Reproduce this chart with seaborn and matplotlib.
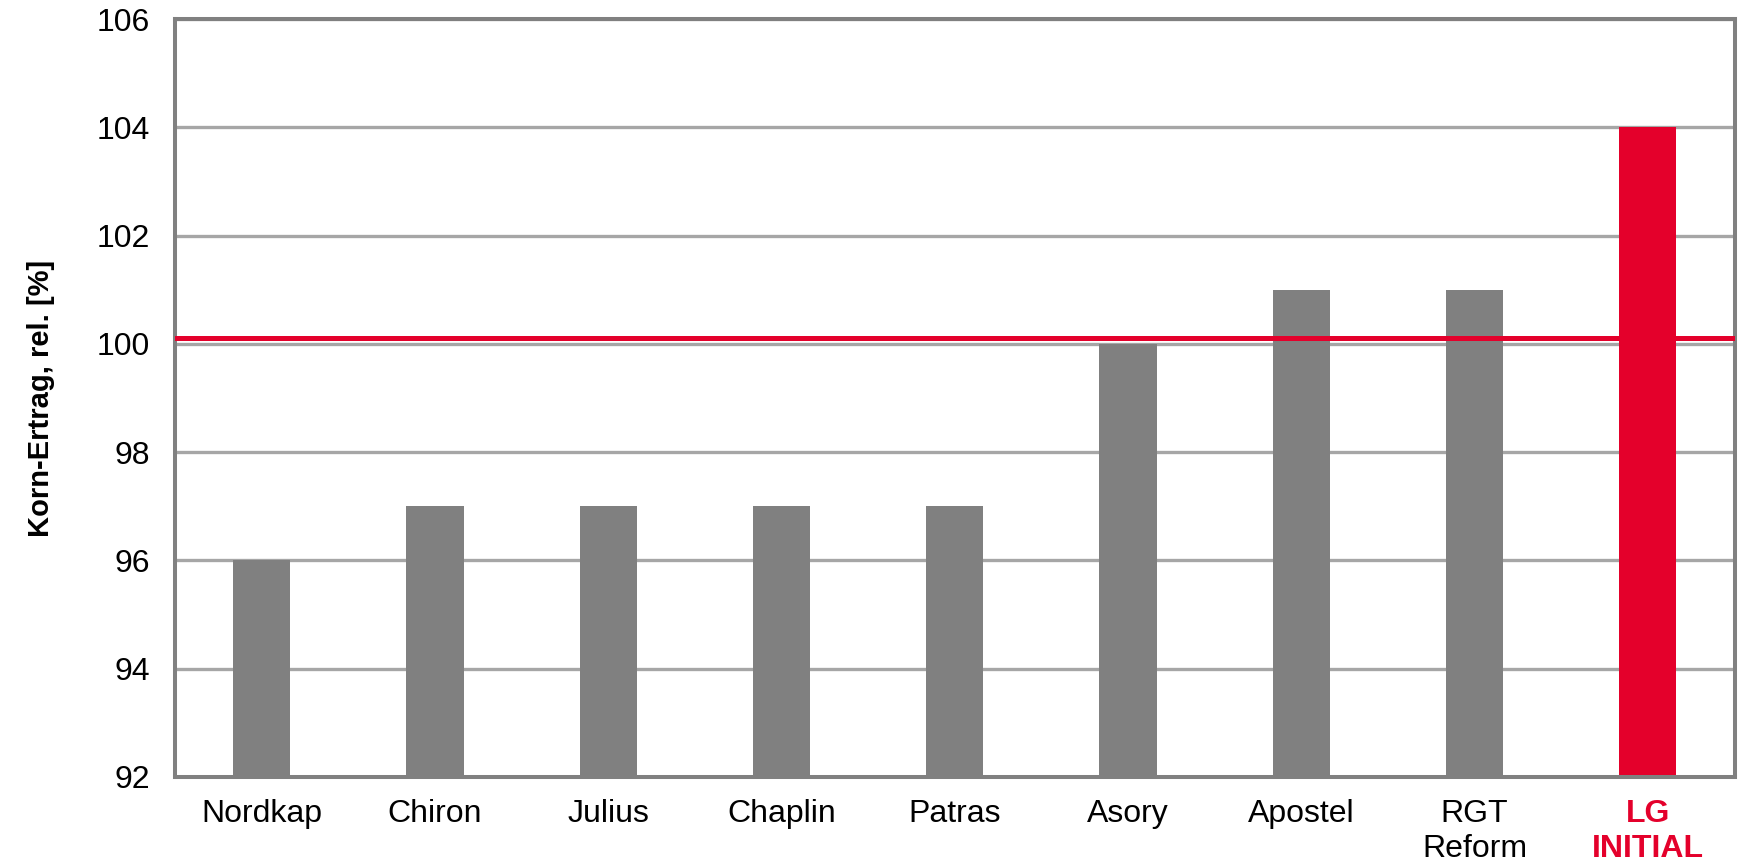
import matplotlib
import matplotlib.pyplot as plt
import pandas as pd
import seaborn as sns

matplotlib.use("Agg")
sns.set_theme(style="white")
plt.rcParams["font.family"] = ["Liberation Sans", "DejaVu Sans"]

SORTEN = ["Nordkap", "Chiron", "Julius", "Chaplin", "Patras", "Asory",
          "Apostel", "RGT\nReform", "LG\nINITIAL"]
ERTRAG = [96, 97, 97, 97, 97, 100, 101, 101, 104]
MITTEL = 100.1
Y_TICKS = [92, 94, 96, 98, 100, 102, 104, 106]

GRAU = "#808080"
ROT = "#E4002B"

df = pd.DataFrame({"sorte": SORTEN, "ertrag": ERTRAG})
farben = [ROT if s.startswith("LG") else GRAU for s in SORTEN]

fig, ax = plt.subplots(figsize=(17.38, 8.64), dpi=100)
sns.barplot(data=df, x="sorte", y="ertrag", hue="sorte", palette=farben,
            legend=False, width=0.33, saturation=1, linewidth=0,
            edgecolor="none", ax=ax, zorder=2)

ax.axhline(MITTEL, color=ROT, linewidth=3.6, zorder=3)
ax.set_ylim(92, 106)
ax.set_yticks(Y_TICKS)
ax.yaxis.grid(True, color="#A6A6A6", linewidth=2.4, zorder=0)
ax.set_axisbelow(True)
ax.set_xlim(-0.5, len(SORTEN) - 0.5)

for spine in ax.spines.values():
    spine.set_color(GRAU)
    spine.set_linewidth(2.9)

ax.tick_params(axis="y", length=0, labelsize=23, colors="black", pad=18)
ax.tick_params(axis="x", length=0, labelsize=23, colors="black", pad=16)
ax.set_xlabel("")
ax.set_ylabel("Korn-Ertrag, rel. [%]", fontsize=21, fontweight="bold",
              color="black", labelpad=30)

for lbl in ax.get_xticklabels():
    if lbl.get_text().startswith("LG"):
        lbl.set_color(ROT)
        lbl.set_fontweight("bold")

fig.subplots_adjust(left=0.1007, right=0.998, top=0.978, bottom=0.1007)
fig.savefig("out.png", dpi=100)
plt.close(fig)
